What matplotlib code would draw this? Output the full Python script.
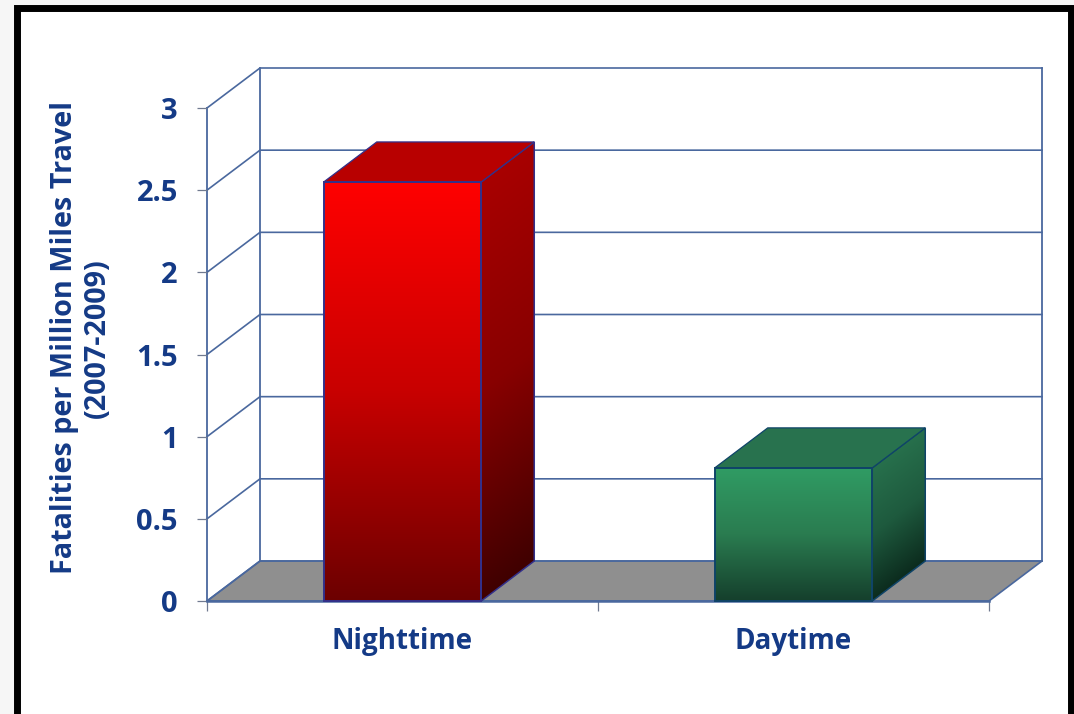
import numpy as np
import matplotlib
matplotlib.use("Agg")
import matplotlib.pyplot as plt
from matplotlib.colors import LinearSegmentedColormap
from matplotlib.patches import Polygon, Rectangle

categories = ["Nighttime", "Daytime"]
values = [2.55, 0.81]
y_ticks = [0, 0.5, 1, 1.5, 2, 2.5, 3]
y_tick_labels = ["0", "0.5", "1", "1.5", "2", "2.5", "3"]
front_colors = [("#ff0000", "#c80000", "#6c0000"), ("#309c64", "#2a7c50", "#153f2c")]
side_colors = [("#a80000", "#880000", "#400000"), ("#27704c", "#1e5a3e", "#0c2c1e")]
top_colors = ["#b80000", "#28724e"]
edge_colors = ["#33308a", "#0f4468"]

NAVY = "#143a86"
LINE = "#4a689e"
FONT = "Open Sans"

W, H = 1074, 714
fig = plt.figure(figsize=(W / 100, H / 100), dpi=100, facecolor="#f6f6f6")

# picture frame
fig.add_artist(Rectangle((16.5 / W, -0.02), (1070.5 - 16.5) / W, (714 - 8) / H + 0.02,
                         transform=fig.transFigure, facecolor="white",
                         edgecolor="black", linewidth=5.0, zorder=-5))

ax = fig.add_axes([207 / W, (714 - 601) / H, 782 / W, 493 / H])
ax.set_zorder(5)
ax.patch.set_visible(False)
for s in ax.spines.values():
    s.set_visible(False)

dx = 53 / 391
dy = 40 / (493 / 3)
bar_w = 157.5 / 391

# floor
ax.add_patch(Polygon([(0, 0), (dx, dy), (2 + dx, dy), (2, 0)], closed=True,
                     facecolor="#8f8f8f", edgecolor=LINE, linewidth=1.2,
                     clip_on=False, zorder=1))
# walls and gridlines
for t in y_ticks:
    ax.plot([0, dx, 2 + dx], [t, t + dy, t + dy], color=LINE, lw=1.2,
            clip_on=False, zorder=1, solid_joinstyle="miter")
ax.plot([0, 0], [0, 3], color=LINE, lw=1.3, clip_on=False, zorder=1)
ax.plot([dx, dx], [dy, 3 + dy], color=LINE, lw=1.3, clip_on=False, zorder=1)
ax.plot([2 + dx, 2 + dx], [dy, 3 + dy], color=LINE, lw=1.3, clip_on=False, zorder=1)
ax.plot([0, 2], [0, 0], color=LINE, lw=1.8, clip_on=False, zorder=2)

# bars
for i, v in enumerate(values):
    x0 = i + 0.5 - bar_w / 2
    x1 = x0 + bar_w
    front = LinearSegmentedColormap.from_list("f", front_colors[i])
    side = LinearSegmentedColormap.from_list("s", side_colors[i])
    g = np.linspace(0, 1, 256).reshape(-1, 1)
    ax.imshow(g, cmap=front, extent=(x0, x1, 0, v), aspect="auto", origin="upper",
              zorder=3, clip_on=False)
    poly = Polygon([(x1, 0), (x1 + dx, dy), (x1 + dx, v + dy), (x1, v)], closed=True,
                   facecolor="none", edgecolor=edge_colors[i], linewidth=1.1,
                   clip_on=False, zorder=4)
    ax.add_patch(poly)
    # side face gradient follows the shear of the face, clipped to the parallelogram
    uu, yy = np.meshgrid(np.linspace(0, 1, 64), np.linspace(v + dy, 0, 256))
    shade = np.clip((v + dy * uu - yy) / v, 0, 1)
    im = ax.imshow(shade, cmap=side, vmin=0, vmax=1, extent=(x1, x1 + dx, 0, v + dy),
                   aspect="auto", origin="upper", zorder=3)
    im.set_clip_path(poly)
    ax.add_patch(Polygon([(x0, v), (x0 + dx, v + dy), (x1 + dx, v + dy), (x1, v)],
                         closed=True, facecolor=top_colors[i], edgecolor=edge_colors[i],
                         linewidth=0.9, clip_on=False, zorder=4))
    ax.add_patch(Rectangle((x0, 0), bar_w, v, facecolor="none", edgecolor=edge_colors[i],
                           linewidth=1.4, clip_on=False, zorder=5))
ax.set_xlim(0, 2)
ax.set_ylim(0, 3)
ax.set_aspect("auto")

ax.set_xticks([0, 1, 2])
ax.set_xticklabels([])
ax.set_xticks([0.5, 1.5], minor=True)
ax.set_xticklabels(categories, minor=True, fontfamily=FONT, fontweight="bold",
                   fontsize=20, color=NAVY)
ax.tick_params(axis="x", which="major", length=7, width=0.9, color="#707a90")
ax.tick_params(axis="x", which="minor", length=0, pad=19)
ax.set_yticks(y_ticks)
ax.set_yticklabels(y_tick_labels, fontfamily=FONT, fontweight="bold", fontsize=21, color=NAVY)
ax.tick_params(axis="y", length=7, width=0.9, color="#707a90", pad=14)

fig.text(81 / W, 1 - 338 / H, "Fatalities per Million Miles Travel\n(2007-2009)",
         rotation=90, ha="center", va="center", ma="center", fontfamily=FONT,
         fontweight="bold", fontsize=20.7, color=NAVY, linespacing=1.2)

fig.savefig("out.png", dpi=100, facecolor=fig.get_facecolor())
